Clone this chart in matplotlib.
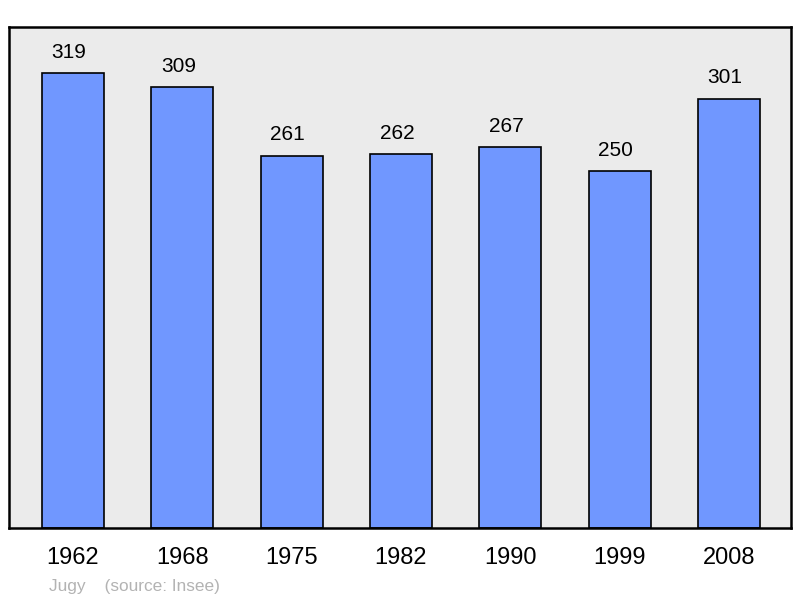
import matplotlib.pyplot as plt

# Données de population
annees = ['1962', '1968', '1975', '1982', '1990', '1999', '2008']
population = [319, 309, 261, 262, 267, 250, 301]

plt.rcParams['font.family'] = ['Liberation Sans', 'DejaVu Sans']

fig = plt.figure(figsize=(8, 5.98), dpi=100)
ax = fig.add_axes([0.01125, 0.117, 0.9775, 0.838])
ax.set_facecolor('#ebebeb')

x = range(len(annees))
ax.bar(x, population, width=0.567, color='#7097ff', edgecolor='black', linewidth=1.2)

# étiquettes légèrement décalées à gauche comme dans l'original
for i, v in zip(x, population):
    ax.text(i - 0.035, v + 8, str(v), ha='center', va='bottom', fontsize=15)

ax.set_xlim(-0.585, 6.567)
ax.set_ylim(0, 351.3)
ax.set_xticks(list(x))
ax.set_xticklabels(annees, fontsize=17)
ax.tick_params(axis='x', length=0, pad=14)
ax.set_yticks([])
for s in ax.spines.values():
    s.set_linewidth(1.8)

fig.text(0.061, 0.012, 'Jugy    (source: Insee)', color='#b3b3b3', fontsize=12.4)

fig.savefig('out.png', dpi=100)
